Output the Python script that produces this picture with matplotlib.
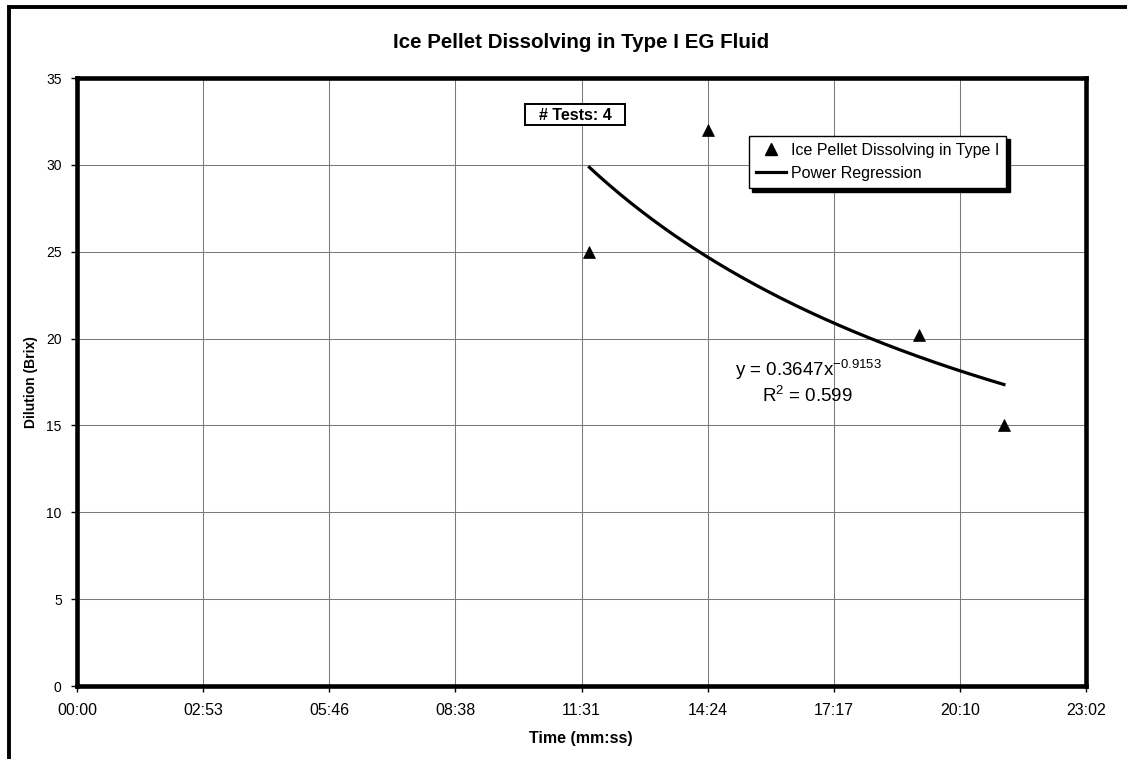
import numpy as np
import matplotlib
matplotlib.use("Agg")
import matplotlib.pyplot as plt
from matplotlib.lines import Line2D
from matplotlib.patches import Rectangle

plt.rcParams['font.family'] = ['Liberation Sans', 'DejaVu Sans']
plt.rcParams['mathtext.fontset'] = 'custom'
plt.rcParams['mathtext.rm'] = 'Liberation Sans'
plt.rcParams['mathtext.it'] = 'Liberation Sans:italic'
plt.rcParams['mathtext.bf'] = 'Liberation Sans:bold'

# test results (elapsed time mm:ss, dilution in Brix)
test_times = ["11:42", "14:24", "19:13", "21:10"]
dilution = [25.0, 32.0, 20.2, 15.0]

# power trendline y = a * x^b, x in days (spreadsheet time)
fit_a = 0.3647
fit_b = -0.9153
fit_r2 = 0.599
n_tests = 4

x_ticks_days = [0.000, 0.002, 0.004, 0.006, 0.008, 0.010, 0.012, 0.014, 0.016]
x_tick_labels = ["00:00", "02:53", "05:46", "08:38", "11:31", "14:24", "17:17", "20:10", "23:02"]
y_ticks = [0, 5, 10, 15, 20, 25, 30, 35]


def mmss_to_days(s):
    m, sec = s.split(":")
    return (int(m) * 60 + int(sec)) / 86400.0


x_days = np.array([mmss_to_days(t) for t in test_times])
y_vals = np.array(dilution)

W, H = 1127, 759
fig = plt.figure(figsize=(W / 100, H / 100), dpi=100)


def fx(px):
    return px / W


def fy(py):
    return 1 - py / H


ax = fig.add_axes([fx(77), fy(686), fx(1086) - fx(77), fy(78) - fy(686)])

ax.set_xlim(0, 0.016)
ax.set_ylim(0, 35)
ax.set_xticks(x_ticks_days)
ax.set_xticklabels(x_tick_labels, fontsize=11.5)
ax.set_yticks(y_ticks)
ax.set_yticklabels([str(v) for v in y_ticks], fontsize=10)
ax.tick_params(axis='x', direction='out', length=4, width=1, pad=8)
ax.tick_params(axis='y', direction='out', length=4, width=1, pad=7)
ax.grid(True, color='#7a7a7a', linewidth=0.75)
ax.set_axisbelow(True)
for sp in ax.spines.values():
    sp.set_linewidth(3.3)
    sp.set_color('black')
    sp.set_zorder(5)

# data points
ax.plot(x_days, y_vals, linestyle='none', marker='^', markersize=9,
        color='black', markeredgewidth=0.5, zorder=4)

# power regression over the tested range
xc = np.linspace(x_days.min(), x_days.max(), 200)
yc = fit_a * xc ** fit_b
ax.plot(xc, yc, color='black', linewidth=2.3, zorder=3)

handles = [
    Line2D([], [], linestyle='none', marker='^', markersize=9, color='black'),
    Line2D([], [], color='black', linewidth=2.3),
]
labels = ["Ice Pellet Dissolving in Type I", "Power Regression"]
leg = ax.legend(handles, labels, loc='upper left',
                bbox_to_anchor=(fx(748.5), fy(135.7)), bbox_transform=fig.transFigure,
                frameon=True, fancybox=False, framealpha=1, edgecolor='black',
                shadow={'ox': 2.6, 'oy': -2.6, 'facecolor': 'black',
                        'edgecolor': 'black', 'alpha': 1},
                borderpad=0.45, labelspacing=0.5, handlelength=1.9,
                handletextpad=0.3, borderaxespad=0, fontsize=11.5, numpoints=1)
leg.get_frame().set_linewidth(1.0)
leg.set_zorder(6)

# trendline equation
fig.text(fx(735), fy(376), r'y = 0.3647$\mathregular{x^{%.4f}}$' % fit_b,
         fontsize=13.5, ha='left', va='baseline')
fig.text(fx(762), fy(402), r'$\mathregular{R^2}$ = %.3f' % fit_r2,
         fontsize=13.5, ha='left', va='baseline')

# number of tests box
fig.add_artist(Rectangle((fx(524.5), fy(125)), fx(625) - fx(524.5), fy(104.5) - fy(125),
                         transform=fig.transFigure, facecolor='white',
                         edgecolor='black', linewidth=1.4, zorder=7))
fig.text(fx(575), fy(115), "# Tests: %d" % n_tests, fontsize=11.5, fontweight='bold',
         ha='center', va='center', zorder=8)

fig.text(fx(581.5), fy(48.3), "Ice Pellet Dissolving in Type I EG Fluid",
         fontsize=14.8, fontweight='bold', ha='center', va='baseline')
fig.text(fx(581), fy(739), "Time (mm:ss)", fontsize=11.5, fontweight='bold',
         ha='center', va='center')
fig.text(fx(31), fy(382), "Dilution (Brix)", fontsize=10, fontweight='bold',
         ha='center', va='center', rotation=90)

# outer chart frame (left and top edges)
fig.add_artist(Line2D([fx(9), fx(9)], [fy(7), fy(H + 10)], transform=fig.transFigure,
                      color='black', linewidth=2.8))
fig.add_artist(Line2D([fx(9), fx(W + 10)], [fy(7), fy(7)], transform=fig.transFigure,
                      color='black', linewidth=2.8))

fig.savefig("out.png", dpi=100)
